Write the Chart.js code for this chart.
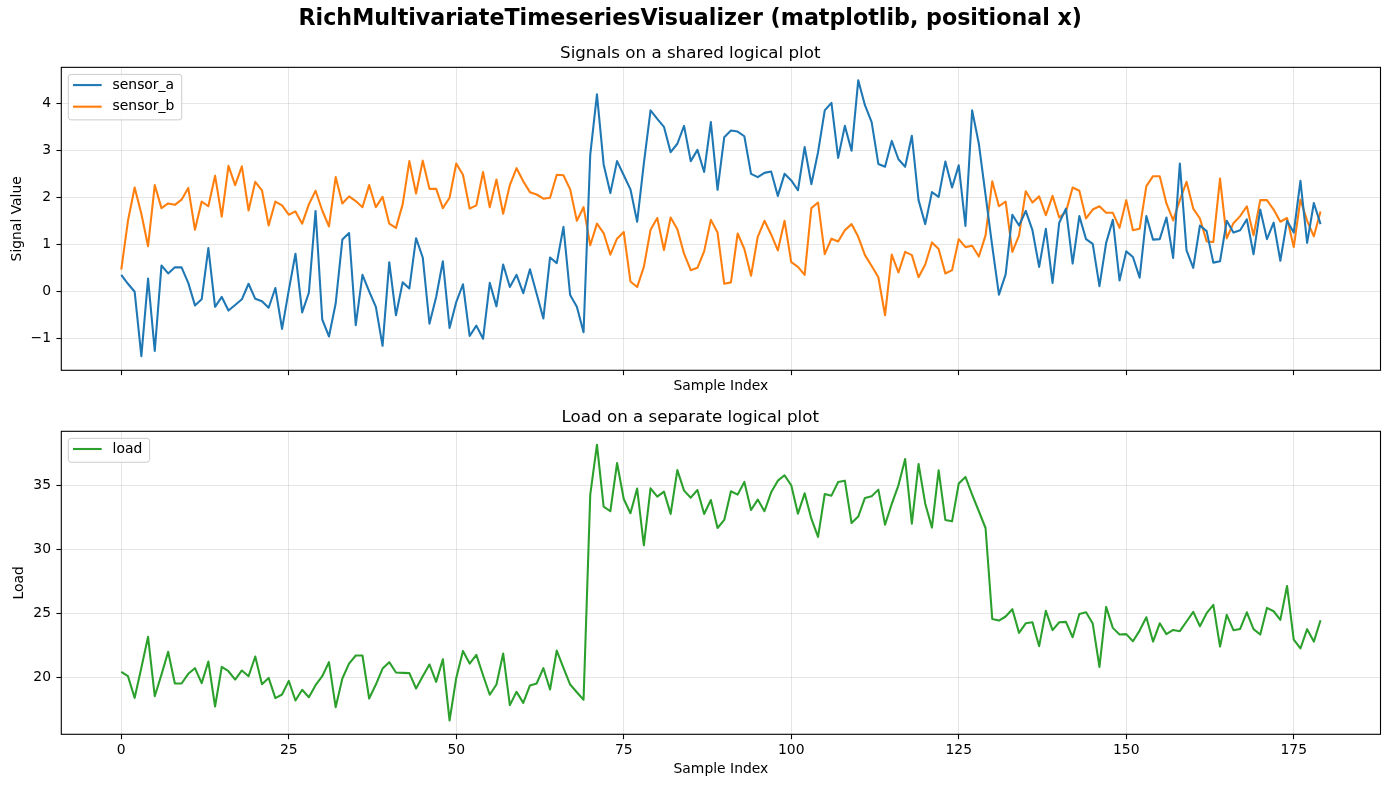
<!DOCTYPE html>
<html><head><meta charset="utf-8">
<script src="https://cdn.jsdelivr.net/npm/chart.js@4.4.1/dist/chart.umd.min.js"></script>
<style>
html,body{margin:0;padding:0;background:#fff;}
#wrap{position:relative;width:1390px;height:788px;overflow:hidden;background:#fff;}
canvas{position:absolute;left:0;}
#c1{top:0;} #c2{top:400px;}
</style></head><body>
<div id="wrap"><canvas id="c1" width="1390" height="400"></canvas><canvas id="c2" width="1390" height="388"></canvas></div>
<script>
// ---- data ----
const sampleIndex = Array.from({length: 180}, (_, i) => i);
const sensorA = [0.35,0.16,-0.01,-1.38,0.27,-1.27,0.55,0.38,0.51,0.51,
0.18,-0.30,-0.17,0.92,-0.33,-0.12,-0.41,-0.29,-0.17,0.16,
-0.16,-0.21,-0.35,0.07,-0.80,0.02,0.80,-0.45,-0.03,1.71,
-0.60,-0.96,-0.26,1.10,1.24,-0.72,0.35,0.00,-0.33,-1.16,
0.62,-0.51,0.19,0.06,1.13,0.72,-0.69,-0.12,0.64,-0.78,
-0.23,0.15,-0.95,-0.73,-1.01,0.18,-0.32,0.57,0.09,0.35,
-0.04,0.47,-0.05,-0.58,0.72,0.60,1.37,-0.08,-0.33,-0.87,
2.91,4.19,2.70,2.09,2.77,2.47,2.17,1.48,2.72,3.85,
3.67,3.50,2.96,3.14,3.52,2.77,3.01,2.54,3.60,2.16,
3.28,3.42,3.40,3.30,2.50,2.43,2.52,2.55,2.03,2.50,
2.36,2.15,3.07,2.28,2.96,3.85,4.01,2.84,3.52,2.99,
4.49,3.96,3.60,2.71,2.65,3.20,2.81,2.65,3.31,1.94,
1.43,2.11,2.01,2.76,2.21,2.68,1.39,3.85,3.14,2.05,
0.96,-0.07,0.36,1.63,1.40,1.71,1.30,0.52,1.33,0.18,
1.46,1.76,0.59,1.60,1.11,1.01,0.11,1.03,1.52,0.23,
0.85,0.73,0.29,1.60,1.10,1.11,1.57,0.71,2.72,0.87,
0.50,1.40,1.28,0.61,0.64,1.50,1.25,1.30,1.53,0.79,
1.74,1.11,1.46,0.65,1.50,1.25,2.35,1.03,1.88,1.43];
const sensorB = [0.46,1.50,2.21,1.65,0.96,2.26,1.77,1.87,1.84,1.95,
2.20,1.31,1.91,1.81,2.46,1.59,2.67,2.26,2.66,1.72,
2.33,2.15,1.40,1.91,1.83,1.63,1.70,1.44,1.85,2.14,
1.72,1.38,2.43,1.87,2.02,1.92,1.79,2.26,1.79,2.01,
1.44,1.35,1.85,2.77,2.08,2.78,2.18,2.18,1.77,1.99,
2.72,2.48,1.76,1.83,2.54,1.79,2.38,1.65,2.26,2.62,
2.34,2.11,2.06,1.97,1.99,2.48,2.47,2.17,1.50,1.79,
0.98,1.44,1.24,0.78,1.12,1.26,0.21,0.09,0.52,1.31,
1.56,0.88,1.57,1.32,0.80,0.45,0.50,0.85,1.52,1.25,
0.16,0.19,1.23,0.90,0.33,1.16,1.50,1.21,0.87,1.50,
0.62,0.52,0.35,1.77,1.89,0.79,1.12,1.06,1.30,1.43,
1.16,0.77,0.54,0.30,-0.51,0.78,0.40,0.84,0.77,0.30,
0.57,1.04,0.90,0.38,0.45,1.11,0.94,0.97,0.74,1.19,
2.34,1.81,1.91,0.84,1.19,2.13,1.89,2.02,1.62,2.03,
1.57,1.69,2.21,2.14,1.55,1.74,1.81,1.67,1.67,1.35,
1.94,1.30,1.33,2.24,2.45,2.45,1.87,1.51,1.94,2.33,
1.76,1.55,1.06,1.05,2.40,1.13,1.45,1.60,1.81,1.19,
1.94,1.94,1.74,1.48,1.56,0.94,1.95,1.50,1.17,1.70];
const load = [20.44,20.10,18.41,20.76,23.18,18.54,20.23,22.01,19.53,19.53,
20.29,20.73,19.56,21.25,17.73,20.83,20.49,19.84,20.55,20.10,
21.64,19.48,19.97,18.39,18.67,19.74,18.20,19.04,18.46,19.40,
20.10,21.20,17.68,19.92,21.09,21.72,21.72,18.36,19.45,20.70,
21.20,20.39,20.36,20.34,19.14,20.10,21.02,19.66,21.43,16.64,
19.97,22.08,21.09,21.77,20.18,18.65,19.45,21.88,17.84,18.88,
18.02,19.38,19.53,20.73,19.06,22.11,20.76,19.45,18.85,18.26,
34.30,38.20,33.36,33.00,36.77,33.96,32.84,34.77,30.34,34.79,
34.14,34.53,32.79,36.22,34.61,34.06,34.66,32.79,33.88,31.69,
32.32,34.56,34.30,35.29,33.10,33.91,33.00,34.48,35.39,35.81,
35.03,32.81,34.40,32.42,30.99,34.35,34.22,35.29,35.39,32.08,
32.58,34.04,34.17,34.69,31.95,33.57,35.03,37.08,32.03,36.69,
33.59,31.72,36.20,32.32,32.21,35.16,35.68,34.30,33.00,31.69,
24.58,24.45,24.77,25.34,23.49,24.24,24.32,22.45,25.21,23.70,
24.32,24.35,23.15,24.97,25.10,24.22,20.83,25.52,23.88,23.36,
23.39,22.84,23.67,24.71,22.81,24.24,23.39,23.72,23.62,24.38,
25.13,24.01,25.03,25.68,22.42,24.90,23.70,23.80,25.10,23.78,
23.36,25.44,25.18,24.51,27.16,22.97,22.27,23.78,22.81,24.48];
const xTickValues = [0, 25, 50, 75, 100, 125, 150, 175];
const signalTickValues = [-1, 0, 1, 2, 3, 4];
const loadTickValues = [20, 25, 30, 35];

// ---- style ----
const FONT = 'DejaVu Sans';
Chart.defaults.font.family = FONT;
Chart.defaults.font.size = 13.9;
Chart.defaults.color = '#000';
const GRID = 'rgba(176,176,176,0.32)';
const C_A = '#1f77b4', C_B = '#ff7f0e', C_L = '#2ca02c';
const fmt = v => (v < 0 ? '\u2212' + Math.abs(v) : String(v));

function legendLine(color) {
  const c = document.createElement('canvas');
  c.width = 33; c.height = 4;
  const g = c.getContext('2d');
  g.strokeStyle = color; g.lineWidth = 2.08;
  g.beginPath(); g.moveTo(0, 2); g.lineTo(29, 2); g.stroke();
  return c;
}

const frameAndLegend = {
  id: 'frameAndLegend',
  afterLayout(chart, args, opts) {
    const lg = chart.legend; if (!lg) return;
    lg.left = chart.chartArea.left + opts.dx;
    lg.top = chart.chartArea.top + opts.dy;
  },
  afterDraw(chart) {
    const {ctx, chartArea: a} = chart;
    ctx.save();
    ctx.strokeStyle = '#000'; ctx.lineWidth = 1.1;
    ctx.strokeRect(a.left, a.top, a.right - a.left, a.bottom - a.top);
    const lg = chart.legend;
    if (lg && lg.legendHitBoxes && lg.legendHitBoxes.length) {
      const hb = lg.legendHitBoxes;
      const l = hb[0].left - 4.3, t = hb[0].top - 3.7;
      let r = 0; hb.forEach(h => { r = Math.max(r, h.left + h.width); });
      r += 7.4;
      const last = hb[hb.length - 1];
      const b = last.top + last.height + 6.3;
      ctx.beginPath(); ctx.roundRect(l, t, r - l, b - t, 2.8);
      ctx.fillStyle = 'rgba(255,255,255,0.8)'; ctx.fill();
      ctx.strokeStyle = '#cccccc'; ctx.lineWidth = 1; ctx.stroke();
      ctx.restore();
      lg.draw();
      return;
    }
    ctx.restore();
  }
};

function gridOpts() {
  return { color: GRID, lineWidth: 1, tickColor: '#000', tickLength: 4.86, tickWidth: 1.1, drawTicks: true };
}
function ds(label, data, color) {
  return { label, data, borderColor: color, backgroundColor: color, borderWidth: 2.08,
    pointRadius: 0, pointHoverRadius: 0, tension: 0, fill: false,
    borderJoinStyle: 'round', borderCapStyle: 'butt', pointStyle: legendLine(color) };
}
function legendOpts() {
  return { position: 'chartArea', align: 'start',
    labels: { usePointStyle: true, pointStyleWidth: 33, padding: 7.7, font: { size: 13.9 }, color: '#000' } };
}

// ---- chart 1: signals ----
new Chart(document.getElementById('c1'), {
  type: 'line',
  data: { labels: sampleIndex, datasets: [ds('sensor_a', sensorA, C_A), ds('sensor_b', sensorB, C_B)] },
  options: {
    responsive: false, animation: false, devicePixelRatio: 1, events: [],
    layout: { padding: { top: 5.5, left: 0, right: 9.5, bottom: 0 } },
    plugins: {
      title: { display: true, text: 'RichMultivariateTimeseriesVisualizer (matplotlib, positional x)',
        font: { size: 22.2, weight: 'bold' }, color: '#000', padding: { top: 0, bottom: 0 } },
      subtitle: { display: true, text: 'Signals on a shared logical plot',
        font: { size: 16.7 }, color: '#000', padding: { top: 11.06, bottom: 4.1 } },
      legend: legendOpts(),
      tooltip: { enabled: false },
      frameAndLegend: { dx: 3.6, dy: 3.05 }
    },
    scales: {
      x: { type: 'linear', min: -8.95, max: 187.95,
        afterBuildTicks: s => { s.ticks = xTickValues.map(v => ({ value: v })); },
        afterFit: s => { s.height = 29.7; },
        ticks: { callback: () => '', padding: 3.1, autoSkip: false, maxRotation: 0 },
        grid: gridOpts(), border: { display: false },
        title: { display: true, text: 'Sample Index', font: { size: 13.9 }, color: '#000', padding: { top: 0, bottom: 5.16 } } },
      y: { type: 'linear', min: -1.681, max: 4.766,
        afterBuildTicks: s => { s.ticks = signalTickValues.map(v => ({ value: v })); },
        afterFit: s => { s.width = 61.3; },
        ticks: { callback: fmt, padding: 5.4, autoSkip: false },
        grid: gridOpts(), border: { display: false },
        title: { display: true, text: 'Signal Value', font: { size: 13.9 }, color: '#000', padding: { top: 8.86, bottom: 0 } } }
    }
  },
  plugins: [frameAndLegend]
});

// ---- chart 2: load ----
new Chart(document.getElementById('c2'), {
  type: 'line',
  data: { labels: sampleIndex, datasets: [ds('load', load, C_L)] },
  options: {
    responsive: false, animation: false, devicePixelRatio: 1, events: [],
    layout: { padding: { top: 0, left: 0, right: 9.5, bottom: 0 } },
    plugins: {
      title: { display: true, text: 'Load on a separate logical plot',
        font: { size: 16.7, weight: 'normal' }, color: '#000', padding: { top: 7.2, bottom: 4.06 } },
      legend: legendOpts(),
      tooltip: { enabled: false },
      frameAndLegend: { dx: 3.6, dy: 3.05 }
    },
    scales: {
      x: { type: 'linear', min: -8.95, max: 187.95,
        afterBuildTicks: s => { s.ticks = xTickValues.map(v => ({ value: v })); },
        afterFit: s => { s.height = 53.7; },
        ticks: { callback: fmt, padding: 3.1, autoSkip: false, maxRotation: 0 },
        grid: gridOpts(), border: { display: false },
        title: { display: true, text: 'Sample Index', font: { size: 13.9 }, color: '#000', padding: { top: 0, bottom: 9.86 } } },
      y: { type: 'linear', min: 15.56, max: 39.25,
        afterBuildTicks: s => { s.ticks = loadTickValues.map(v => ({ value: v })); },
        afterFit: s => { s.width = 61.3; },
        ticks: { callback: fmt, padding: 5.4, autoSkip: false },
        grid: gridOpts(), border: { display: false },
        title: { display: true, text: 'Load', font: { size: 13.9 }, color: '#000', padding: { top: 11.36, bottom: 0 } } }
    }
  },
  plugins: [frameAndLegend]
});
</script>
</body></html>
